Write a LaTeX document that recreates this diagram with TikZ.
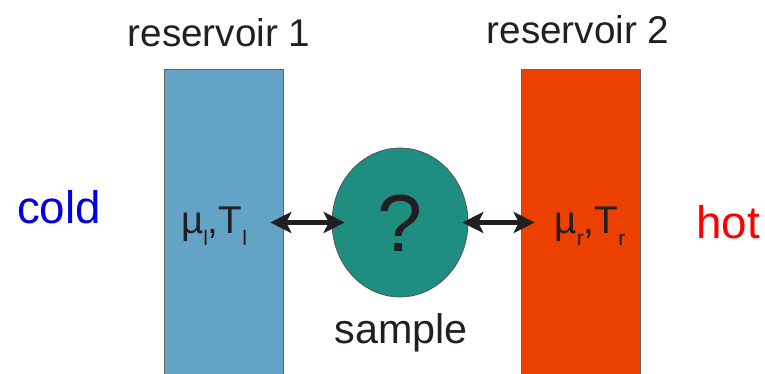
\documentclass[tikz,border=0pt]{standalone}
\usepackage{fontspec}
\setmainfont{Liberation Sans}
\usetikzlibrary{arrows.meta,positioning,shapes,calc}
\definecolor{resblue}{RGB}{98,163,198}
\definecolor{resred}{RGB}{236,65,0}
\definecolor{sampleteal}{RGB}{31,142,128}
\definecolor{coldblue}{RGB}{0,0,225}
\definecolor{hotred}{RGB}{255,0,0}
\definecolor{darktext}{RGB}{35,31,32}
\newcommand{\lowsub}[1]{\raisebox{-0.3em}{\fontsize{12}{12}\selectfont #1}}
\tikzset{
  reservoir/.style={draw=darktext!70, thin, minimum width=2.38cm, minimum height=6.4cm, inner sep=0pt},
  exchange/.style={{Stealth[length=12pt,width=12pt,inset=3pt]}-{Stealth[length=12pt,width=12pt,inset=3pt]}, line width=2.4pt, darktext}
}

\begin{document}
\begin{tikzpicture}[x=0.02cm,y=-0.02cm]
        \useasboundingbox (0,0) rectangle (765,373);
        % Reservoirs
        \node[reservoir, fill=resblue] (res1) at (223.5,229) {};
        \node[reservoir, fill=resred] (res2) at (580.5,229) {};
        \node[font=\fontsize{22}{26}\selectfont, text=darktext] (lab1) at (219,33) {reservoir 1};
        \node[font=\fontsize{22}{26}\selectfont, text=darktext] (lab2) at (578,30) {reservoir 2};
        % Sample
        \node[ellipse, draw=darktext!80, fill=sampleteal, minimum width=2.72cm, minimum height=2.98cm, inner sep=0pt] (smp) at (400,222.5) {};
        \node[font=\fontsize{46}{50}\selectfont, text=darktext] (q) at (400,223) {?};
        \node[font=\fontsize{23.5}{28}\selectfont, text=darktext] (smplab) at (401,333) {sample};
        % Chemical potentials and temperatures
        \node[font=\fontsize{22}{26}\selectfont, text=darktext] (left) at (214,226) {µ\lowsub{l},T\lowsub{l}};
        \node[font=\fontsize{22}{26}\selectfont, text=darktext] (right) at (590,226) {µ\lowsub{r},T\lowsub{r}};
        % Exchange with the reservoirs
        \draw[exchange] ([xshift=-13*0.02cm]res1.east |- smp.center) -- ([xshift=13*0.02cm]smp.west);
        \draw[exchange] ([xshift=-6*0.02cm]smp.east) -- ([xshift=14*0.02cm]res2.west |- smp.center);
        % Cold and hot side
        \node[font=\fontsize{26}{30}\selectfont, text=coldblue] (cold) at (59,207) {cold};
        \node[font=\fontsize{26}{30}\selectfont, text=hotred] (hot) at (728,222) {hot};
\end{tikzpicture}
\end{document}
